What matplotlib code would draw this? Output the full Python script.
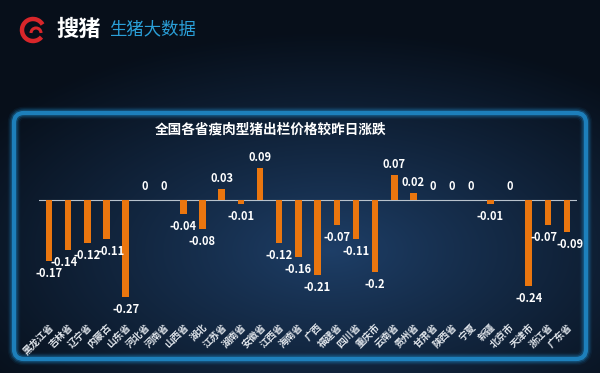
import numpy as np
import matplotlib
matplotlib.use("Agg")
import matplotlib.pyplot as plt
from matplotlib.patches import FancyBboxPatch, Arc

plt.rcParams['font.family'] = ['Noto Sans CJK SC', 'DejaVu Sans']

provinces = ["黑龙江省", "吉林省", "辽宁省", "内蒙古", "山东省", "河北省", "河南省",
             "山西省", "湖北", "江苏省", "湖南省", "安徽省", "江西省", "海南省",
             "广西", "福建省", "四川省", "重庆市", "云南省", "贵州省", "甘肃省",
             "陕西省", "宁夏", "新疆", "北京市", "天津市", "浙江省", "广东省"]
changes = [-0.17, -0.14, -0.12, -0.11, -0.27, 0, 0, -0.04, -0.08, 0.03, -0.01,
           0.09, -0.12, -0.16, -0.21, -0.07, -0.11, -0.2, 0.07, 0.02, 0, 0, 0,
           -0.01, 0, -0.24, -0.07, -0.09]
title = "全国各省瘦肉型猪出栏价格较昨日涨跌"

W, H = 600, 373
fig = plt.figure(figsize=(6, 3.73), dpi=100)

# background gradient
bg = fig.add_axes([0, 0, 1, 1])
yy, xx = np.mgrid[0:H, 0:W]
d = np.sqrt(((xx - 330) / 420.0) ** 2 + ((yy - 250) / 220.0) ** 2)
t = np.clip(d, 0, 1) ** 0.9
c_in = np.array([0x1e, 0x3f, 0x68]) / 255
c_out = np.array([0x07, 0x0f, 0x1a]) / 255
img = c_in[None, None, :] * (1 - t[..., None]) + c_out[None, None, :] * t[..., None]
bg.imshow(img, extent=[0, W, H, 0], aspect='auto')
bg.set_xlim(0, W)
bg.set_ylim(H, 0)
bg.axis('off')

# panel border with glow
for lw, a in [(9, 0.08), (7, 0.15), (5, 0.3), (3, 0.9)]:
    p = FancyBboxPatch((14, 113), 572, 246, boxstyle="round,pad=0,rounding_size=10",
                       fill=False, ec="#1f86c4", lw=lw, alpha=a)
    bg.add_patch(p)

# header logo
bg.add_patch(Arc((33, 30), 22, 22, theta1=40, theta2=330, color="#d8262a", lw=3.2))
bg.add_patch(Arc((36, 33), 10, 10, theta1=180, theta2=360, color="#d8262a", lw=2.2))
bg.text(56, 29, "搜猪", color="white", fontsize=16, fontweight='bold',
        va='center', ha='left', fontstyle='italic')
bg.text(109, 29, "生猪大数据", color="#2a9fd8", fontsize=12.5, va='center', ha='left')

# title
fig.text(271 / W, 1 - 130 / H, title, color="white", fontsize=9.8, fontweight='bold',
         ha='center', va='center')

# chart axes
left, right = 39.4, 576.6
top, bottom = 140, 315
ax = fig.add_axes([left / W, 1 - bottom / H, (right - left) / W, (bottom - top) / H])
ax.patch.set_alpha(0)
x = np.arange(len(provinces))
ax.bar(x, changes, width=0.34, color="#ea760f", zorder=2)
ax.axhline(0, color="#b8c2cc", lw=0.8, zorder=1)
ax.set_xlim(-0.5, len(provinces) - 0.5)
ax.set_ylim(-(bottom - 200) / 359.0, (200 - top) / 359.0)
for s in ax.spines.values():
    s.set_visible(False)
ax.set_yticks([])
ax.set_xticks(x)
ax.set_xticklabels(provinces, rotation=45, ha='right', va='top', color="#dfe4ea",
                   fontsize=7, fontweight='bold', rotation_mode='anchor')
ax.tick_params(axis='x', length=0, pad=5)

# small horizontal nudges (pixels) for crowded value labels
nudge = {1: -4, 3: 5, 26: -4, 27: 3}

for i, (xi, v) in enumerate(zip(x, changes)):
    dx = nudge.get(i, 0)
    if v > 0:
        ax.annotate(f"{v:g}", (xi, v), xytext=(dx, 4), textcoords='offset pixels',
                    ha='center', va='bottom', color='white', fontsize=8, fontweight='bold')
    elif v == 0:
        ax.annotate("0", (xi, 0), xytext=(dx, 7), textcoords='offset pixels',
                    ha='center', va='bottom', color='white', fontsize=8, fontweight='bold')
    else:
        ax.annotate(f"{v:g}", (xi, v), xytext=(dx, -6), textcoords='offset pixels',
                    ha='center', va='top', color='white', fontsize=8, fontweight='bold')

fig.savefig("out.png", dpi=100)
